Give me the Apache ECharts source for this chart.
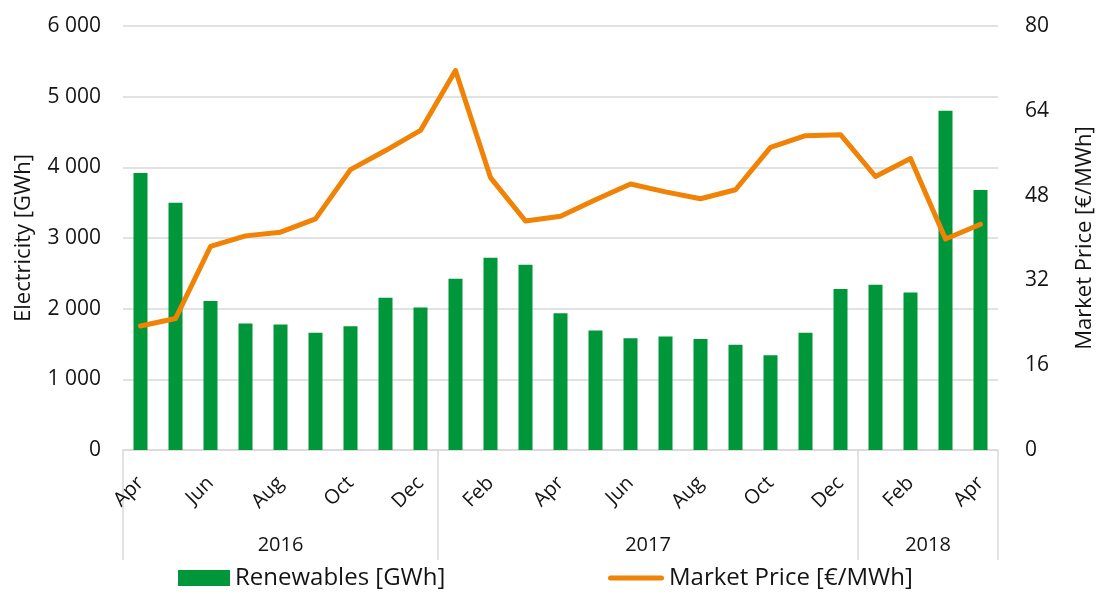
<!DOCTYPE html>
<html>
<head>
<meta charset="utf-8">
<script src="https://cdn.jsdelivr.net/npm/echarts@6/dist/echarts.min.js"></script>
<style>
html,body{margin:0;padding:0;background:#fff;}
#chart{width:1099px;height:594px;}
</style>
</head>
<body>
<div id="chart"></div>
<script>
// ---- data ----
const months = ['Apr','May','Jun','Jul','Aug','Sep','Oct','Nov','Dec',
  'Jan','Feb','Mar','Apr','May','Jun','Jul','Aug','Sep','Oct','Nov','Dec',
  'Jan','Feb','Mar','Apr'];
const years = ['2016','2017','2018'];
const monthsPerYear = [9, 12, 4];
const renewables = [3920,3500,2110,1790,1775,1660,1750,2155,2015,
  2425,2720,2620,1935,1690,1580,1605,1570,1490,1340,1660,2280,
  2340,2230,4800,3680];
const marketPrice = [23.4,24.8,38.4,40.4,41.1,43.6,52.9,56.5,60.3,
  71.6,51.4,43.2,44.1,47.2,50.2,48.7,47.4,49.1,57.1,59.3,59.5,
  51.6,55.0,39.8,42.6];
const leftTicks = {min:0, max:6000, interval:1000};
const rightTicks = {min:0, max:80, interval:16};

// ---- derived year boundaries / centers ----
const yearBounds = [0];
const yearCenters = [];
monthsPerYear.forEach(n => {
  const start = yearBounds[yearBounds.length-1];
  yearCenters.push(start + n/2);
  yearBounds.push(start + n);
});

const FONT = 'Open Sans';
const TXT = '#141414';
const GRID = '#D9D9D9';
const GREEN = '#00963A';
const ORANGE = '#F08206';
const legendText = {fontFamily:FONT, fontSize:24, color:TXT};

const chart = echarts.init(document.getElementById('chart'), null, {renderer:'canvas'});
chart.setOption({
  animation:false,
  textStyle:{fontFamily:FONT},
  grid:{left:123, right:101, top:26, bottom:144, containLabel:false, outerBoundsMode:'none'},
  legend:[
    {
      left:178, top:566, padding:0, itemWidth:52, itemHeight:16,
      textStyle:legendText,
      data:[{name:'Renewables [GWh]', icon:'rect'}]
    },
    {
      left:608, top:566, padding:0, itemWidth:56, itemHeight:16,
      textStyle:legendText,
      data:[{name:'Market Price [€/MWh]',
       icon:'path://M2.5,0 L53.5,0 A2.5,2.5 0 0 1 53.5,5 L2.5,5 A2.5,2.5 0 0 1 2.5,0 Z'}]
    }
  ],
  xAxis:[
    {
      type:'category', data:months, position:'bottom',
      axisLine:{show:true, lineStyle:{color:GRID, width:1.5}},
      axisTick:{show:false},
      axisLabel:{interval:1, rotate:45, margin:30, fontFamily:FONT, fontSize:20, color:TXT}
    },
    {
      type:'value', min:0, max:months.length, position:'bottom',
      axisLine:{show:false},
      splitLine:{show:false},
      axisTick:{show:true, customValues:yearBounds, length:110, inside:false,
        lineStyle:{color:GRID, width:1.5}},
      axisLabel:{customValues:yearCenters, margin:85, fontFamily:FONT, fontSize:20, color:TXT,
        formatter:(v)=>{const i=yearCenters.indexOf(v); return i>=0?years[i]:'';}}
    }
  ],
  yAxis:[
    {
      type:'value', min:leftTicks.min, max:leftTicks.max, interval:leftTicks.interval,
      name:'Electricity [GWh]', nameLocation:'middle', nameGap:88, nameRotate:90,
      nameTextStyle:{fontFamily:FONT, fontSize:22, color:TXT},
      axisLine:{show:false}, axisTick:{show:false},
      axisLabel:{margin:22, fontFamily:FONT, fontSize:21, color:TXT,
        formatter:(v)=>String(v).replace(/\B(?=(\d{3})+(?!\d))/g,' ')},
      splitLine:{show:true, lineStyle:{color:GRID, width:1.5}}
    },
    {
      type:'value', min:rightTicks.min, max:rightTicks.max, interval:rightTicks.interval,
      name:'Market Price [€/MWh]', nameLocation:'middle', nameGap:76, nameRotate:90,
      nameTextStyle:{fontFamily:FONT, fontSize:22, color:TXT},
      axisLine:{show:false}, axisTick:{show:false},
      axisLabel:{margin:27, fontFamily:FONT, fontSize:21, color:TXT},
      splitLine:{show:false}
    }
  ],
  series:[
    {
      name:'Renewables [GWh]', type:'bar', data:renewables,
      xAxisIndex:0, yAxisIndex:0, barWidth:14,
      itemStyle:{color:GREEN}
    },
    {
      name:'Market Price [€/MWh]', type:'line', data:marketPrice,
      xAxisIndex:0, yAxisIndex:1, symbol:'none', showSymbol:false,
      itemStyle:{color:ORANGE},
      lineStyle:{color:ORANGE, width:5, cap:'round', join:'round'}
    }
  ]
});
</script>
</body>
</html>
